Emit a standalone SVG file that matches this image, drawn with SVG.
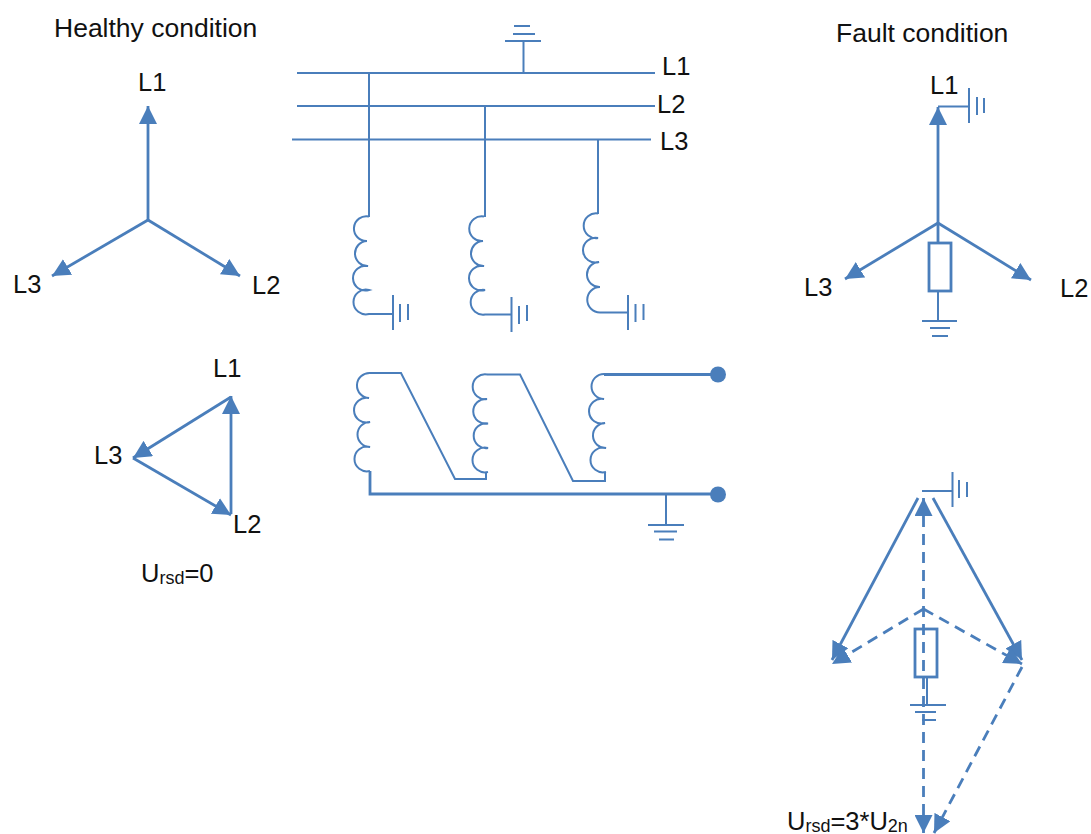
<svg xmlns="http://www.w3.org/2000/svg" width="1091" height="834" viewBox="0 0 1091 834">
<style>
text{font-family:"Liberation Sans",Arial,sans-serif;font-size:25.5px;fill:#111}
.title{font-size:26.5px}
.sub{font-size:18px}
path,line,rect{fill:none;stroke:#4a7ebb;stroke-width:2}
.a{stroke-width:2.8}
.d{stroke-width:2.8;stroke-dasharray:11 7}
.dot{fill:#4a7ebb;stroke:none}
</style>
<defs>
<marker id="h" markerUnits="userSpaceOnUse" markerWidth="18" markerHeight="18" refX="16" refY="8" orient="auto-start-reverse" viewBox="0 0 16 16"><polygon points="0,0 16,8 0,16" fill="#4a7ebb"/></marker>
</defs>
<rect width="1091" height="834" style="fill:#fff;stroke:none"/>
<g id="labels">
<text class="title" x="54" y="37">Healthy condition</text>
<text class="title" x="836" y="42">Fault condition</text>
<text x="662" y="75">L1</text><text x="657" y="113">L2</text><text x="660" y="150">L3</text>
<text x="138" y="91">L1</text><text x="13" y="293">L3</text><text x="252" y="294">L2</text>
<text x="213" y="377">L1</text><text x="94" y="464">L3</text><text x="233" y="533">L2</text>
<text x="141" y="582">U<tspan class="sub" dy="1.500">rsd</tspan><tspan dy="-1.500">=0</tspan></text>
<text x="930" y="94">L1</text><text x="804" y="296">L3</text><text x="1060" y="297">L2</text>
<text x="787" y="830">U<tspan class="sub" dy="1.500">rsd</tspan><tspan dy="-1.500">=3*U</tspan><tspan class="sub" dy="1.500">2n</tspan></text>
</g>
<g id="connectors">
<g id="bus">
<line x1="297" y1="73" x2="655" y2="73"/>
<line x1="297" y1="106" x2="655" y2="106"/>
<line x1="292" y1="139.500" x2="651" y2="139.500"/>
<line x1="369" y1="73" x2="369" y2="217"/>
<line x1="485" y1="105" x2="485" y2="217"/>
<line x1="598" y1="140" x2="598" y2="214"/>
<line x1="523.500" y1="41" x2="523.500" y2="72"/>
<path d="M505 41H541M513 34H535M514 26H530"/>
</g>
<g id="primary-windings">
<path d="M369 216.500A12.400 12.400 0 1 0 367 241A12.400 12.400 0 1 0 368 266A12.400 12.400 0 1 0 369 290A12.400 12.400 0 1 0 369 314H393M393 295V330M400 304V322M408 304V320"/>
<path d="M484 216.500A12.400 12.400 0 1 0 483 241A12.400 12.400 0 1 0 484 266A12.400 12.400 0 1 0 485 290A12.400 12.400 0 1 0 485 314.500H511.500M511.500 297V332M519 306V324M527 305V321"/>
<path d="M598 213.500A12.400 12.400 0 1 0 598 238A12.400 12.400 0 1 0 599 262A12.400 12.400 0 1 0 600 287A12.400 12.400 0 1 0 600 312.500H628M628 295V330M635.500 304V322M643.500 304V320"/>
</g>
<g id="secondary-windings">
<path d="M370 373A12.400 12.400 0 1 0 369 398A12.400 12.400 0 1 0 370 422A12.400 12.400 0 1 0 370 447A12.400 12.400 0 1 0 370 471"/>
<path d="M487 374.500A12.400 12.400 0 1 0 487 399A12.400 12.400 0 1 0 488 423.500A12.400 12.400 0 1 0 488 448A12.400 12.400 0 1 0 488 472"/>
<path d="M604 374A12.400 12.400 0 1 0 604 399A12.400 12.400 0 1 0 605 423A12.400 12.400 0 1 0 606 448A12.400 12.400 0 1 0 606 472"/>
<path d="M370 373H401L455 479H486V472"/>
<path d="M487 374.500H520L573 481H605V472"/>
<path class="a" d="M604 374.500H718"/>
<path class="a" d="M370 471V494H718"/>
<path d="M666 494V525M648 525H684M654 531.500H677M659 539.500H674"/>
</g>
<g id="healthy-star">
<line class="a" x1="148" y1="220" x2="148" y2="106" marker-end="url(#h)"/>
<line class="a" x1="148" y1="220" x2="240" y2="276" marker-end="url(#h)"/>
<line class="a" x1="148" y1="220" x2="52" y2="276" marker-end="url(#h)"/>
</g>
<g id="healthy-triangle">
<line class="a" x1="231" y1="514" x2="231" y2="396" marker-end="url(#h)"/>
<line class="a" x1="231" y1="397" x2="133" y2="458" marker-end="url(#h)"/>
<line class="a" x1="133" y1="458" x2="231" y2="515" marker-end="url(#h)"/>
</g>
<g id="fault-star">
<line class="a" x1="938" y1="223" x2="938" y2="107" marker-end="url(#h)"/>
<line class="a" x1="938" y1="223" x2="1031" y2="280" marker-end="url(#h)"/>
<line class="a" x1="938" y1="223" x2="845" y2="279" marker-end="url(#h)"/>
<path d="M938 106.500H969M969 88V123M977 97V115M984 98V113"/>
<line class="a" x1="938" y1="223" x2="938" y2="243"/>
<rect class="a" x="929" y="243" width="22" height="48"/>
<path d="M938 291V321M922 321H957M930 328H950M932 336H948"/>
</g>
<g id="fault-vectors">
<line class="a" x1="918" y1="498" x2="832" y2="660" marker-end="url(#h)"/>
<line class="a" x1="933" y1="498" x2="1022" y2="660" marker-end="url(#h)"/>
<line class="d" x1="923.500" y1="609" x2="832" y2="664" marker-end="url(#h)"/>
<line class="d" x1="923.500" y1="609" x2="1022" y2="664" marker-end="url(#h)"/>
<line class="d" x1="923.500" y1="498" x2="923.500" y2="833" marker-start="url(#h)" marker-end="url(#h)"/>
<line class="d" x1="1022" y1="667" x2="934" y2="833" marker-end="url(#h)"/>
<path d="M922 491H953M952.500 472V507M959 480V498M967 482V497"/>
<rect class="a" x="915" y="629" width="22" height="48"/>
<path d="M927 677V705M910 705H946M915 712H936M922 720H936"/>
</g>
</g>
<g id="terminal-top"><circle class="dot" cx="718" cy="374.500" r="8"/></g>
<g id="terminal-bottom"><circle class="dot" cx="718" cy="494.500" r="8"/></g>
</svg>
